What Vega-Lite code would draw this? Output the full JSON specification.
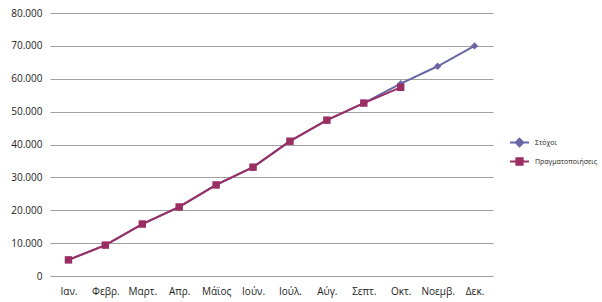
{
  "$schema": "https://vega.github.io/schema/vega-lite/v6.json",
  "autosize": "none",
  "width": 443,
  "height": 263,
  "padding": {"left": 50, "top": 13, "right": 109, "bottom": 26},
  "background": "white",
  "config": {
    "view": {"stroke": null},
    "font": "Open Sans",
    "axis": {"labelFont": "Open Sans", "labelColor": "#222", "labelFontSize": 10}
  },
  "data": {
    "values": [
      {"m": "Ιαν.", "s": "Στόχοι", "v": 4900},
      {"m": "Φεβρ.", "s": "Στόχοι", "v": 9400},
      {"m": "Μαρτ.", "s": "Στόχοι", "v": 15800},
      {"m": "Απρ.", "s": "Στόχοι", "v": 21000},
      {"m": "Μάϊος", "s": "Στόχοι", "v": 27700},
      {"m": "Ιούν.", "s": "Στόχοι", "v": 33100},
      {"m": "Ιούλ.", "s": "Στόχοι", "v": 41000},
      {"m": "Αύγ.", "s": "Στόχοι", "v": 47400},
      {"m": "Σεπτ.", "s": "Στόχοι", "v": 52600},
      {"m": "Οκτ.", "s": "Στόχοι", "v": 58500},
      {"m": "Νοεμβ.", "s": "Στόχοι", "v": 63800},
      {"m": "Δεκ.", "s": "Στόχοι", "v": 70000},
      {"m": "Ιαν.", "s": "Πραγματοποιήσεις", "v": 4900},
      {"m": "Φεβρ.", "s": "Πραγματοποιήσεις", "v": 9400},
      {"m": "Μαρτ.", "s": "Πραγματοποιήσεις", "v": 15800},
      {"m": "Απρ.", "s": "Πραγματοποιήσεις", "v": 21000},
      {"m": "Μάϊος", "s": "Πραγματοποιήσεις", "v": 27700},
      {"m": "Ιούν.", "s": "Πραγματοποιήσεις", "v": 33100},
      {"m": "Ιούλ.", "s": "Πραγματοποιήσεις", "v": 41000},
      {"m": "Αύγ.", "s": "Πραγματοποιήσεις", "v": 47400},
      {"m": "Σεπτ.", "s": "Πραγματοποιήσεις", "v": 52600},
      {"m": "Οκτ.", "s": "Πραγματοποιήσεις", "v": 57400}
    ]
  },
  "encoding": {
    "x": {
      "field": "m", "type": "ordinal", "sort": null,
      "scale": {"paddingInner": 0, "paddingOuter": 0.5},
      "axis": {"title": null, "domain": false, "ticks": false, "labelAngle": 0, "labelPadding": 10, "grid": false, "labelOverlap": false}
    },
    "y": {
      "field": "v", "type": "quantitative",
      "scale": {"domain": [0, 80000], "nice": false},
      "axis": {"title": null, "domain": false, "ticks": false, "values": [0,10000,20000,30000,40000,50000,60000,70000,80000],
        "labelExpr": "datum.value == 0 ? '0' : replace(format(datum.value, ',d'), ',', '.')",
        "labelOverlap": false, "labelPadding": 8, "gridColor": "#a0a0a0", "gridWidth": 1}
    },
    "color": {
      "field": "s", "type": "nominal", "sort": ["Στόχοι", "Πραγματοποιήσεις"],
      "scale": {"domain": ["Στόχοι", "Πραγματοποιήσεις"], "range": ["#6A66A6", "#9A2E62"]},
      "legend": {
        "title": null, "orient": "none", "legendX": 459, "legendY": 119,
        "labelFontSize": 7, "labelFont": "Open Sans", "labelColor": "#222", "labelLimit": 200,
        "symbolSize": 361, "rowPadding": -1, "symbolStrokeWidth": 2, "labelOffset": 5,
        "encode": {
          "symbols": {
            "update": {
              "shape": {"signal": "datum.value == 'Στόχοι' ? 'M-1,0L-0.4,0M0,-0.4L0.4,0L0,0.4L-0.4,0ZM0.4,0L1,0' : 'M-1,0L-0.33,0M-0.33,-0.33L0.33,-0.33L0.33,0.33L-0.33,0.33ZM0.33,0L1,0'"},
              "fill": {"scale": "color", "field": "value"},
              "stroke": {"scale": "color", "field": "value"},
              "opacity": {"value": 1},
              "fillOpacity": {"value": 1},
              "strokeWidth": {"value": 2}
            }
          }
        }
      }
    }
  },
  "layer": [
    {"mark": {"type": "line", "strokeWidth": 2}, "encoding": {"detail": {"field": "s"}}},
    {"transform": [{"filter": "datum.s == 'Στόχοι'"}],
     "mark": {"type": "point", "filled": true, "opacity": 1, "shape": "diamond", "size": 55}},
    {"transform": [{"filter": "datum.s == 'Πραγματοποιήσεις'"}],
     "mark": {"type": "point", "filled": true, "opacity": 1, "shape": "square", "size": 55}}
  ]
}
